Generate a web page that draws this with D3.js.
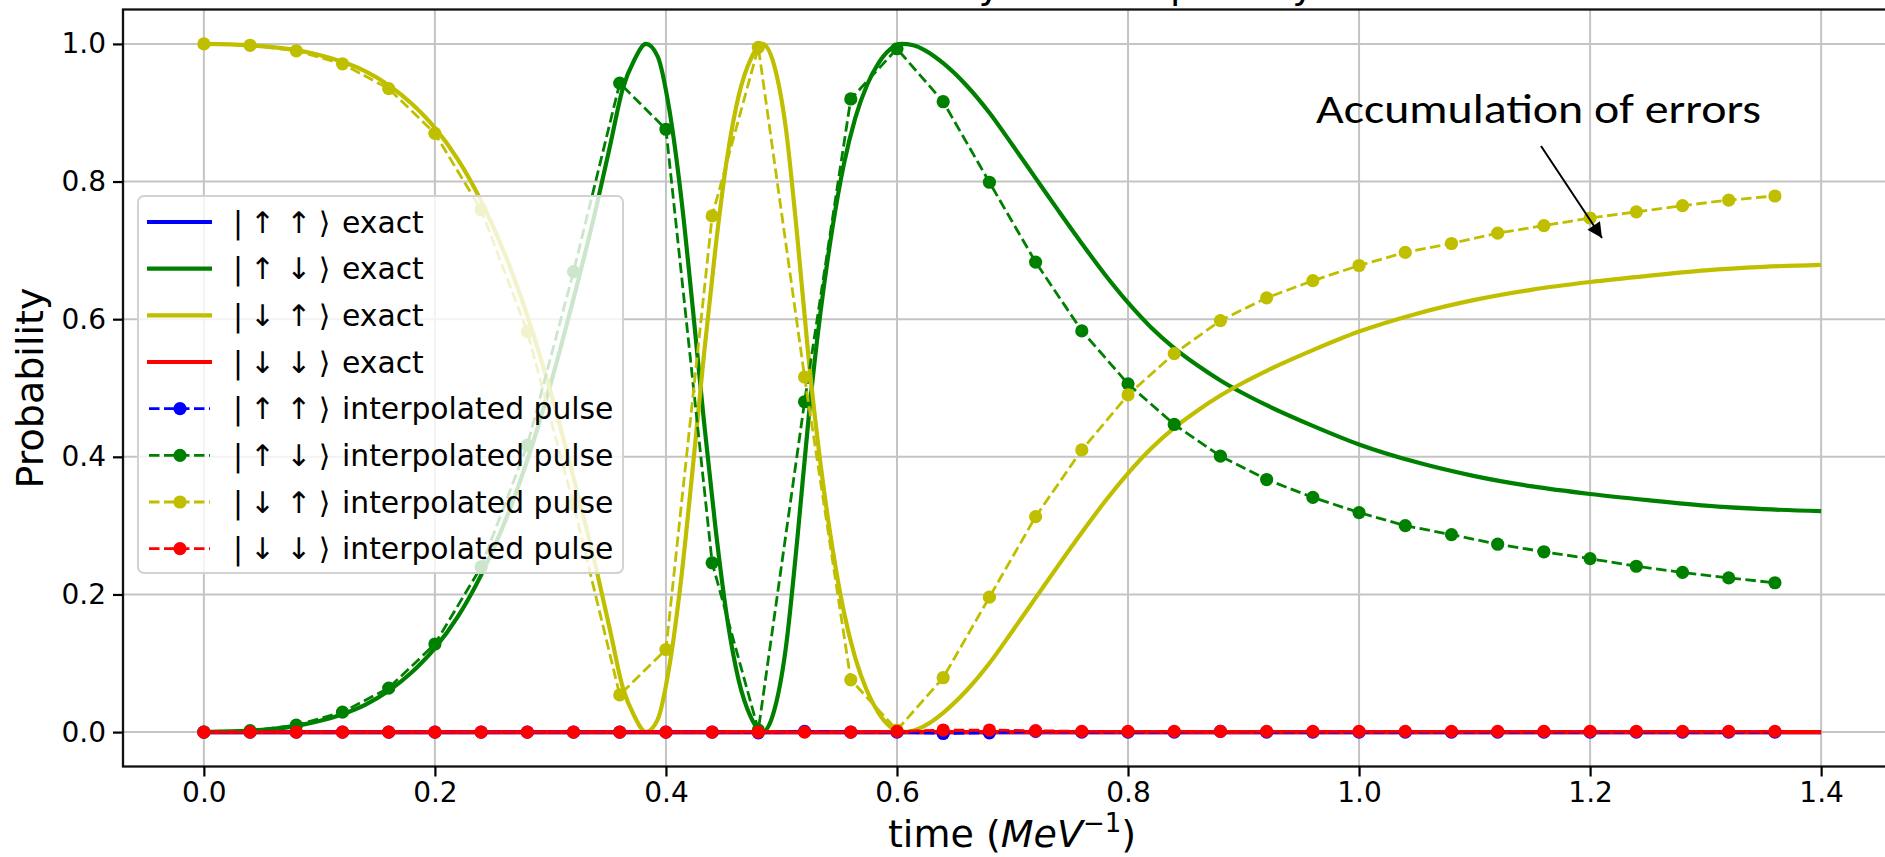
<!DOCTYPE html>
<html>
<head>
<meta charset="utf-8">
<script src="https://cdn.jsdelivr.net/npm/d3@7"></script>
<style>
  body { margin: 0; background: #fff; }
  svg { display: block; }
  .tick text { font-family: "DejaVu Sans", sans-serif; font-size: 28px; fill: #000; }
  .tick line { stroke: #000; stroke-width: 2.2; }
</style>
</head>
<body>
<svg id="chart" width="1885" height="857"></svg>
<script>
// data
var xTicks = [0, 0.2, 0.4, 0.6, 0.8, 1.0, 1.2, 1.4];
var yTicks = [0, 0.2, 0.4, 0.6, 0.8, 1.0];

// exact solution (solid lines)
var exactT = [0, 0.04, 0.08, 0.10, 0.12, 0.14, 0.16, 0.18, 0.20, 0.22, 0.24, 0.26, 0.28, 0.30, 0.32, 0.34, 0.352,
  0.3626, 0.3727, 0.3827, 0.3928, 0.4029, 0.413, 0.423, 0.433, 0.443, 0.453, 0.463, 0.4734, 0.4834,
  0.4935, 0.5036, 0.5137, 0.5237, 0.5338, 0.5439, 0.554, 0.564, 0.574, 0.584, 0.594, 0.604, 0.614, 0.625,
  0.64, 0.66, 0.68, 0.70, 0.72, 0.74, 0.76, 0.78, 0.80, 0.82, 0.84, 0.86, 0.88, 0.90, 0.92, 0.96, 1.0,
  1.05, 1.1, 1.15, 1.2, 1.25, 1.3, 1.35, 1.4];
var greenExact = [0, 0.002, 0.009, 0.016, 0.026, 0.04, 0.06, 0.087, 0.122, 0.168, 0.228, 0.303, 0.395, 0.505, 0.63, 0.765, 0.855,
  0.935, 0.977, 1.0, 0.982, 0.905, 0.78, 0.62, 0.45, 0.295, 0.165, 0.075, 0.022, 0.0,
  0.03, 0.12, 0.28, 0.46, 0.61, 0.73, 0.825, 0.893, 0.94, 0.972, 0.992, 1.0, 0.998, 0.99,
  0.972, 0.94, 0.9, 0.853, 0.805, 0.757, 0.71, 0.665, 0.624, 0.588, 0.558, 0.533, 0.511, 0.492, 0.475, 0.445, 0.418,
  0.392, 0.372, 0.357, 0.346, 0.337, 0.329, 0.324, 0.321];
var yellowExact = [1.0, 0.998, 0.991, 0.984, 0.974, 0.96, 0.94, 0.913, 0.878, 0.832, 0.772, 0.697, 0.605, 0.495, 0.37, 0.235, 0.145,
  0.065, 0.023, 0.0, 0.018, 0.095, 0.22, 0.38, 0.55, 0.705, 0.835, 0.925, 0.978, 1.0,
  0.97, 0.88, 0.72, 0.54, 0.39, 0.27, 0.175, 0.107, 0.06, 0.028, 0.008, 0.0, 0.002, 0.01,
  0.028, 0.06, 0.1, 0.147, 0.195, 0.243, 0.29, 0.335, 0.376, 0.412, 0.442, 0.467, 0.489, 0.508, 0.525, 0.555, 0.582,
  0.608, 0.628, 0.643, 0.654, 0.663, 0.671, 0.676, 0.679];
var flatT = [0, 1.4];
var blueExact = [0, 0];
var redExact = [0, 0];

// interpolated pulse (dashed lines with dots)
var tInterp = [0, 0.04, 0.08, 0.12, 0.16, 0.20, 0.24, 0.28, 0.32, 0.36, 0.40, 0.44, 0.48, 0.52, 0.56, 0.60, 0.64,
  0.68, 0.72, 0.76, 0.80, 0.84, 0.88, 0.92, 0.96, 1.00, 1.04, 1.08, 1.12, 1.16, 1.20, 1.24, 1.28, 1.32, 1.36];
var greenInterp = [0, 0.002, 0.010, 0.029, 0.064, 0.128, 0.240, 0.417, 0.669, 0.943, 0.876, 0.246, 0.003, 0.480, 0.920, 0.993, 0.916,
  0.799, 0.683, 0.583, 0.506, 0.447, 0.401, 0.367, 0.341, 0.319, 0.300, 0.287, 0.273, 0.262, 0.252, 0.241, 0.232, 0.224, 0.217];
var yellowInterp = [1.0, 0.998, 0.990, 0.971, 0.935, 0.870, 0.759, 0.582, 0.331, 0.054, 0.120, 0.750, 0.995, 0.516, 0.076, 0.003, 0.079,
  0.196, 0.313, 0.410, 0.490, 0.550, 0.598, 0.631, 0.656, 0.678, 0.697, 0.710, 0.725, 0.736, 0.747, 0.756, 0.765, 0.773, 0.779];
var blueInterp = [0, 0, 0, 0, 0, 0, 0, 0, 0, 0, 0, 0, -0.001, 0.001, 0, 0, -0.002,
  -0.001, 0.001, 0, 0, 0, 0.001, 0, 0, 0, 0, 0, 0, 0, 0, 0, 0, 0, 0];
var redInterp = [0, 0, 0, 0, 0, 0, 0, 0, 0, 0, 0, 0, 0, 0, 0, 0.001, 0.003,
  0.003, 0.002, 0.001, 0.001, 0.001, 0.001, 0.001, 0.001, 0.001, 0.001, 0.001, 0.001, 0.001, 0.001, 0.001, 0.001, 0.001, 0.001];

var kets = [["↑", "↑"], ["↑", "↓"], ["↓", "↑"], ["↓", "↓"]];
var colors = ["#0000ff", "#008000", "#bfbf00", "#ff0000"];

// scales (axes frame runs past the right edge of the picture)
var x = d3.scaleLinear().domain([-0.07, 1.47]).range([123, 1902]);
var y = d3.scaleLinear().domain([-0.05, 1.05]).range([766.5, 9.5]);

var svg = d3.select("#chart");
var font = "'DejaVu Sans', sans-serif";

svg.append("clipPath").attr("id", "plotclip")
  .append("rect").attr("x", 123).attr("y", 9.5).attr("width", 1779).attr("height", 757);

// grid
var grid = svg.append("g");
grid.selectAll("line.gx").data(xTicks).enter().append("line")
  .attr("x1", d => x(d)).attr("x2", d => x(d)).attr("y1", 9.5).attr("y2", 766.5)
  .style("stroke", "#c4c4c4").style("stroke-width", 2);
grid.selectAll("line.gy").data(yTicks).enter().append("line")
  .attr("x1", 123).attr("x2", 1902).attr("y1", d => y(d)).attr("y2", d => y(d))
  .style("stroke", "#c4c4c4").style("stroke-width", 2);

var smooth = d3.line().x(d => x(d[0])).y(d => y(d[1])).curve(d3.curveMonotoneX);
var line = d3.line().x(d => x(d[0])).y(d => y(d[1]));
var plot = svg.append("g").attr("clip-path", "url(#plotclip)");

var exactSeries = [
  { t: flatT, v: blueExact },
  { t: exactT, v: greenExact },
  { t: exactT, v: yellowExact },
  { t: flatT, v: redExact }
];
var interpSeries = [blueInterp, greenInterp, yellowInterp, redInterp];

exactSeries.forEach(function(s, i) {
  var pts = s.t.map((t, k) => [t, s.v[k]]);
  plot.append("path").datum(pts).attr("d", smooth)
    .style("fill", "none").style("stroke", colors[i]).style("stroke-width", 4.2)
    .style("stroke-linejoin", "round").style("stroke-linecap", "butt");
});

interpSeries.forEach(function(vals, i) {
  var pts = tInterp.map((t, k) => [t, vals[k]]);
  plot.append("path").datum(pts).attr("d", line)
    .style("fill", "none").style("stroke", colors[i]).style("stroke-width", 2.8)
    .style("stroke-dasharray", "10.5,4.5");
  plot.selectAll("circle.s" + i).data(pts).enter().append("circle")
    .attr("cx", d => x(d[0])).attr("cy", d => y(d[1])).attr("r", 6.6)
    .style("fill", colors[i]);
});

// spines
svg.append("rect").attr("x", 123).attr("y", 9.5).attr("width", 1779).attr("height", 757)
  .style("fill", "none").style("stroke", "#111").style("stroke-width", 2.3);

// axes
svg.append("g").attr("transform", "translate(0,766.5)")
  .call(d3.axisBottom(x).tickValues(xTicks).tickFormat(d3.format(".1f")).tickSize(10).tickPadding(6))
  .call(g => g.select(".domain").remove());
svg.append("g").attr("transform", "translate(123,0)")
  .call(d3.axisLeft(y).tickValues(yTicks).tickFormat(d3.format(".1f")).tickSize(10).tickPadding(7))
  .call(g => g.select(".domain").remove());

// axis labels
svg.append("text")
  .attr("transform", "translate(43,388) rotate(-90)")
  .attr("text-anchor", "middle")
  .style("font-family", font).style("font-size", "38px")
  .text("Probability");

var xl = svg.append("text")
  .attr("x", 1012).attr("y", 847)
  .attr("text-anchor", "middle")
  .style("font-family", font).style("font-size", "38px");
xl.append("tspan").text("time (");
xl.append("tspan").style("font-style", "italic").text("MeV");
xl.append("tspan").attr("dy", -15).style("font-size", "26px").text("−1");
xl.append("tspan").attr("dy", 15).text(")");

// title: only the descenders show above the picture's top edge
svg.append("text")
  .attr("x", 800).attr("y", -2)
  .style("font-family", font).style("font-size", "38px")
  .text("Probability of state polarity");

// legend
var legend = svg.append("g");
legend.append("rect")
  .attr("x", 138).attr("y", 196).attr("width", 485).attr("height", 377)
  .attr("rx", 6).attr("ry", 6)
  .style("fill", "#fff").style("fill-opacity", 0.8)
  .style("stroke", "#d2d2d2").style("stroke-width", 2);

for (var i = 0; i < 8; i++) {
  var cy = 222 + i * 46.67;
  var c = colors[i % 4];
  if (i < 4) {
    legend.append("line").attr("x1", 147).attr("x2", 212).attr("y1", cy).attr("y2", cy)
      .style("stroke", c).style("stroke-width", 4.2);
  } else {
    legend.append("line").attr("x1", 149).attr("x2", 210).attr("y1", cy).attr("y2", cy)
      .style("stroke", c).style("stroke-width", 2.8).style("stroke-dasharray", "10.5,4.5");
    legend.append("circle").attr("cx", 180).attr("cy", cy).attr("r", 6.6).style("fill", c);
  }
  var k = kets[i % 4];
  var t = legend.append("text").attr("y", cy + 10.5)
    .style("font-family", font).style("font-size", "29.8px").style("fill", "#000");
  t.append("tspan").attr("x", 238).attr("text-anchor", "middle").text("|");
  t.append("tspan").attr("x", 262.7).attr("text-anchor", "middle").text(k[0]);
  t.append("tspan").attr("x", 299).attr("text-anchor", "middle").text(k[1]);
  t.append("tspan").attr("x", 324.5).attr("text-anchor", "middle").text("⟩");
  t.append("tspan").attr("x", 342).attr("text-anchor", "start").text(i < 4 ? "exact" : "interpolated pulse");
}

// annotation
svg.append("text")
  .attr("x", 1316).attr("y", 123)
  .attr("textLength", 445).attr("lengthAdjust", "spacingAndGlyphs")
  .style("font-family", "Carlito, Calibri, 'Liberation Sans Narrow', 'Open Sans', sans-serif")
  .style("font-size", "41px").style("fill", "#000")
  .text("Accumulation of errors");

svg.append("defs").append("marker")
  .attr("id", "arrowhead").attr("viewBox", "0 0 10 10")
  .attr("refX", 10).attr("refY", 5)
  .attr("markerWidth", 8.5).attr("markerHeight", 7.5)
  .attr("markerUnits", "strokeWidth")
  .attr("orient", "auto")
  .append("path").attr("d", "M0,0 L10,5 L0,10 z").style("fill", "#000");

svg.append("line")
  .attr("x1", 1541).attr("y1", 146).attr("x2", 1602).attr("y2", 238)
  .style("stroke", "#000").style("stroke-width", 2)
  .attr("marker-end", "url(#arrowhead)");
</script>
</body>
</html>
